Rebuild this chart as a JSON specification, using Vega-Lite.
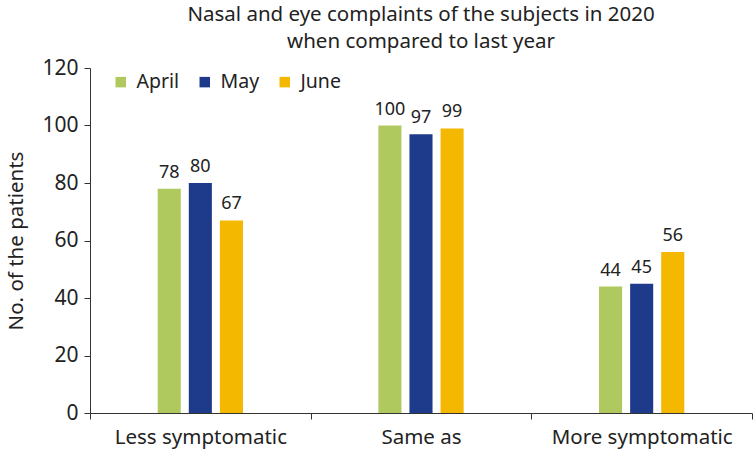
{
  "$schema": "https://vega.github.io/schema/vega-lite/v6.json",
  "width": 662,
  "height": 345,
  "autosize": {"type": "none"},
  "padding": {"left": 90, "top": 68, "right": 3, "bottom": 42},
  "config": {
    "font": "Noto Sans",
    "view": {"stroke": null},
    "axis": {"grid": false}
  },
  "title": {
    "text": ["Nasal and eye complaints of the subjects in 2020", "when compared to last year"],
    "fontSize": 20.5,
    "fontWeight": "normal",
    "color": "#222222",
    "anchor": "middle",
    "lineHeight": 27,
    "offset": 5
  },
  "data": {
    "values": [
      {"category": "Less symptomatic", "month": "April", "value": 78},
      {"category": "Less symptomatic", "month": "May", "value": 80},
      {"category": "Less symptomatic", "month": "June", "value": 67},
      {"category": "Same as", "month": "April", "value": 100},
      {"category": "Same as", "month": "May", "value": 97},
      {"category": "Same as", "month": "June", "value": 99},
      {"category": "More symptomatic", "month": "April", "value": 44},
      {"category": "More symptomatic", "month": "May", "value": 45},
      {"category": "More symptomatic", "month": "June", "value": 56}
    ]
  },
  "encoding": {
    "x": {
      "field": "category",
      "type": "nominal",
      "sort": ["Less symptomatic", "Same as", "More symptomatic"],
      "scale": {"paddingInner": 0, "paddingOuter": 0},
      "axis": {
        "title": null,
        "labelAngle": 0,
        "labelFontSize": 20.5,
        "labelLimit": 400,
        "labelColor": "#222222",
        "labelPadding": 8,
        "tickBand": "extent",
        "tickSize": 6,
        "tickColor": "#333333",
        "domainColor": "#333333"
      }
    },
    "xOffset": {
      "field": "month",
      "type": "nominal",
      "scale": {"domain": ["p1", "p2", "April", "May", "June", "p3", "p4"], "paddingInner": 0.258, "paddingOuter": 0.177}
    },
    "y": {
      "field": "value",
      "type": "quantitative",
      "scale": {"domain": [0, 120]},
      "axis": {
        "title": "No. of the patients",
        "titleFontSize": 20.5,
        "titleFontWeight": "normal",
        "titleColor": "#222222",
        "titlePadding": 15,
        "labelFontSize": 21,
        "labelColor": "#222222",
        "labelPadding": 6,
        "labelOverlap": false,
        "values": [0, 20, 40, 60, 80, 100, 120],
        "tickSize": 6,
        "tickColor": "#333333",
        "domainColor": "#333333"
      }
    }
  },
  "layer": [
    {
      "mark": {"type": "bar"},
      "encoding": {
        "color": {
          "field": "month",
          "type": "nominal",
          "sort": ["April", "May", "June"],
          "scale": {"domain": ["April", "May", "June"], "range": ["#B0C95E", "#1E3A8A", "#F5B800"]},
          "legend": {
            "title": null,
            "orient": "none",
            "direction": "horizontal",
            "legendX": 21,
            "legendY": 4,
            "symbolType": "square",
            "symbolSize": 110,
            "symbolStrokeWidth": 0,
            "labelFontSize": 19.5,
            "labelColor": "#222222",
            "labelOffset": 6,
            "columnPadding": 15
          }
        }
      }
    },
    {
      "mark": {"type": "text", "baseline": "alphabetic", "dy": -11, "fontSize": 18, "color": "#222222"},
      "encoding": {
        "text": {"field": "value", "type": "quantitative"}
      }
    }
  ]
}
